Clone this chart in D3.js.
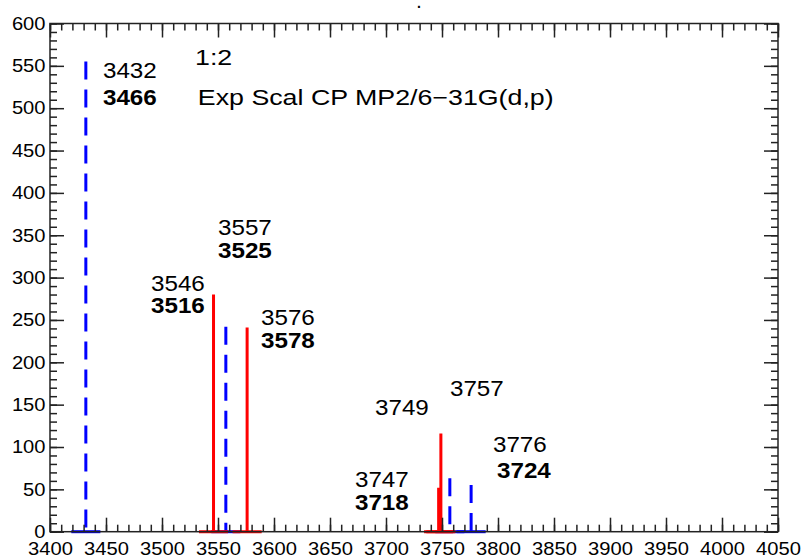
<!DOCTYPE html>
<html><head><meta charset="utf-8">
<script src="https://cdn.jsdelivr.net/npm/d3@7"></script>
<style>
body{margin:0;background:#fff}
svg{display:block}
text{font-family:"Liberation Sans",Arial,Helvetica,sans-serif;fill:#000}
</style>
</head><body>
<svg id="c" width="802" height="556"></svg>
<script>
// ---- data ----
const xTickLabels = [3400,3450,3500,3550,3600,3650,3700,3750,3800,3850,3900,3950,4000,4050];
const yTickLabels = [0,50,100,150,200,250,300,350,400,450,500,550,600];
const redFreq  = [3546, 3576, 3747, 3749];
const redInt   = [280, 241, 52, 116];
const blueFreq = [3432, 3557, 3757, 3776];
const blueInt  = [555, 242, 63, 55];
const labelText = ["3432","3466","1:2","Exp Scal CP MP2/6\u221231G(d,p)","3557","3525","3546","3516","3576","3578","3749","3757","3776","3724","3747","3718"];
const labelX    = [3447.3,3447.3,3529.5,3532,3550,3550,3490.2,3490.2,3588.4,3588.4,3690.2,3757.1,3795.5,3799.1,3672.3,3672.3];
const labelY    = [535.8,504,551.2,504,350.4,323.3,284.3,258.3,244.1,217,137.8,160.3,94.1,63.4,52.8,25.6];
const labelBold = [false,true,false,false,false,true,false,true,false,true,false,false,false,true,false,true];
const title = ".";

// ---- layout ----
const W = 802, H = 556;
const m = {l:50, r:24, t:23.5, b:24.3};
const svg = d3.select("#c");
const x = d3.scaleLinear().domain([xTickLabels[0], xTickLabels[xTickLabels.length-1]]).range([m.l, W-m.r]);
const y = d3.scaleLinear().domain([yTickLabels[0], yTickLabels[yTickLabels.length-1]]).range([H-m.b, m.t]);
const halfBase = 13;
const tickScale = 1.12, labScale = 1.1;

// title
svg.append("text").attr("x", 419).attr("y", 8).attr("text-anchor","middle")
  .style("font-size","14px").style("font-weight","bold").text(title);

// blue sticks (dashed)
const line = d3.line().x(d=>x(d[0])).y(d=>y(d[1]));
blueFreq.forEach((f,i)=>{
  svg.append("path").attr("d", line([[f-halfBase,0],[f+halfBase,0]]))
    .attr("fill","none").attr("stroke","#0000ff").attr("stroke-width",3);
  svg.append("path").attr("d", line([[f,blueInt[i]],[f,0]]))
    .attr("fill","none").attr("stroke","#0000ff").attr("stroke-width",3)
    .attr("stroke-dasharray","18,10");
});
// red sticks
redFreq.forEach((f,i)=>{
  svg.append("path").attr("d", line([[f-halfBase,0],[f,0],[f,redInt[i]],[f,0],[f+halfBase,0]]))
    .attr("fill","none").attr("stroke","#ff0000").attr("stroke-width",3)
    .attr("stroke-linejoin","miter");
});

// axes
const minorX = d3.range(xTickLabels[0], xTickLabels[xTickLabels.length-1]+0.1, 10);
const minorY = d3.range(yTickLabels[0], yTickLabels[yTickLabels.length-1]+0.1, 10);
const axCol = "#222";
function styleAxis(g){
  g.select(".domain").remove();
  g.selectAll(".tick line").attr("stroke",axCol).attr("stroke-width",1.5);
}
// bottom
svg.append("g").attr("transform",`translate(0,${H-m.b})`)
  .call(d3.axisBottom(x).tickValues(minorX).tickSize(-7).tickFormat("")).call(styleAxis);
const gb = svg.append("g").attr("transform",`translate(0,${H-m.b})`)
  .call(d3.axisBottom(x).tickValues(xTickLabels).tickSize(-14).tickPadding(10.5).tickFormat(d3.format("d"))).call(styleAxis);
gb.selectAll("text").style("font-size","18px").attr("fill","#000").attr("transform",`scale(${tickScale},1)`);
// top
svg.append("g").attr("transform",`translate(0,${m.t})`)
  .call(d3.axisTop(x).tickValues(minorX).tickSize(-7).tickFormat("")).call(styleAxis);
svg.append("g").attr("transform",`translate(0,${m.t})`)
  .call(d3.axisTop(x).tickValues(xTickLabels).tickSize(-14).tickFormat("")).call(styleAxis);
// left
svg.append("g").attr("transform",`translate(${m.l},0)`)
  .call(d3.axisLeft(y).tickValues(minorY).tickSize(-7).tickFormat("")).call(styleAxis);
const gl = svg.append("g").attr("transform",`translate(${m.l},0)`)
  .call(d3.axisLeft(y).tickValues(yTickLabels).tickSize(-14).tickPadding(4).tickFormat(d3.format("d"))).call(styleAxis);
gl.selectAll("text").style("font-size","18px").attr("fill","#000").attr("transform",`scale(${tickScale},1)`);
// right
svg.append("g").attr("transform",`translate(${W-m.r},0)`)
  .call(d3.axisRight(y).tickValues(minorY).tickSize(-7).tickFormat("")).call(styleAxis);
svg.append("g").attr("transform",`translate(${W-m.r},0)`)
  .call(d3.axisRight(y).tickValues(yTickLabels).tickSize(-14).tickFormat("")).call(styleAxis);

// frame
svg.append("rect").attr("x",m.l).attr("y",m.t).attr("width",W-m.l-m.r).attr("height",H-m.t-m.b)
  .attr("fill","none").attr("stroke",axCol).attr("stroke-width",1.5);

// annotations
labelText.forEach((t,i)=>{
  const wide = !/^\d+$/.test(t);
  svg.append("text")
    .attr("transform",`translate(${x(labelX[i])},${y(labelY[i])}) scale(${wide ? 1.19 : labScale},1)`)
    .style("font-size", wide ? "22.5px" : "22px").style("font-weight", labelBold[i] ? "bold" : "normal")
    .text(t);
});
</script>
</body></html>
